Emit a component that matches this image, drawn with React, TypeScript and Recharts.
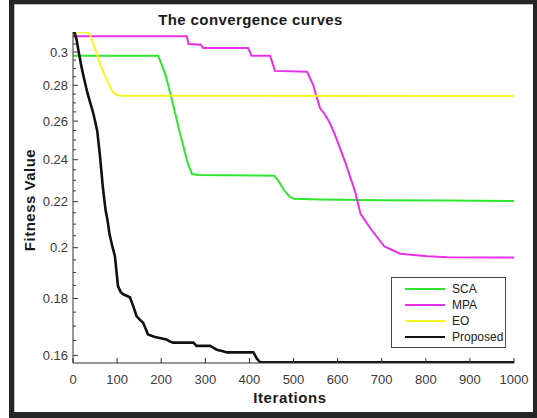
import { LineChart, Line, XAxis, YAxis, Legend } from "recharts";

// iterations / fitness
const scaIter = [0, 193, 200, 210, 220, 232, 242, 250, 258, 264, 270, 285, 350, 420, 456, 465, 478, 490, 500, 560, 700, 850, 1000];
const scaFit = [0.2977, 0.2977, 0.293, 0.286, 0.276, 0.264, 0.254, 0.247, 0.24, 0.236, 0.233, 0.2325, 0.2324, 0.2323, 0.2322, 0.23, 0.2255, 0.2225, 0.2213, 0.221, 0.2207, 0.2205, 0.2203];

const mpaIter = [0, 258, 262, 290, 295, 397, 405, 447, 452, 458, 531, 545, 553, 560, 570, 580, 590, 599, 618, 640, 652, 675, 706, 742, 804, 849, 1000];
const mpaFit = [0.3099, 0.3099, 0.305, 0.3046, 0.3025, 0.3025, 0.2977, 0.2977, 0.2935, 0.2885, 0.288, 0.28, 0.2728, 0.2671, 0.264, 0.26, 0.255, 0.2497, 0.2383, 0.2245, 0.2145, 0.208, 0.2005, 0.1975, 0.1965, 0.1961, 0.196];

const eoIter = [0, 34, 40, 50, 61, 70, 79, 88, 95, 106, 1000];
const eoFit = [0.3127, 0.3125, 0.31, 0.302, 0.2932, 0.287, 0.2817, 0.277, 0.275, 0.274, 0.2739];

const propIter = [0, 4, 8, 13, 19, 25, 32, 38, 45, 50, 55, 61, 68, 74, 78, 83, 90, 95, 102, 108, 114, 129, 137, 144, 152, 159, 165, 170, 186, 212, 218, 227, 273, 280, 311, 318, 326, 340, 349, 409, 417, 424, 430, 1000];
const propFit = [0.3127, 0.312, 0.3078, 0.3, 0.2912, 0.284, 0.2764, 0.271, 0.2652, 0.26, 0.2546, 0.2423, 0.2261, 0.216, 0.212, 0.2055, 0.2, 0.1966, 0.1847, 0.1825, 0.1816, 0.1805, 0.177, 0.1736, 0.1722, 0.1712, 0.169, 0.1671, 0.1662, 0.1654, 0.1648, 0.1643, 0.1643, 0.1632, 0.1632, 0.1626, 0.1619, 0.1614, 0.161, 0.161, 0.1589, 0.1578, 0.1577, 0.1577];

const xTicks = [0, 100, 200, 300, 400, 500, 600, 700, 800, 900, 1000];
const yMajor = [0.16, 0.18, 0.2, 0.22, 0.24, 0.26, 0.28, 0.3];
const yMinor = [0.165, 0.17, 0.175, 0.185, 0.19, 0.195, 0.205, 0.21, 0.215, 0.225, 0.23, 0.235, 0.245, 0.25, 0.255, 0.265, 0.27, 0.275, 0.285, 0.29, 0.295, 0.305, 0.31];

const toPoints = (its: number[], fs: number[]) => its.map((it, i) => ({ it, v: fs[i] }));

const series = [
  { name: "SCA", color: "#2ee62e", width: 2, data: toPoints(scaIter, scaFit) },
  { name: "MPA", color: "#ea2fea", width: 2, data: toPoints(mpaIter, mpaFit) },
  { name: "EO", color: "#f6f621", width: 2, data: toPoints(eoIter, eoFit) },
  { name: "Proposed", color: "#111111", width: 2.6, data: toPoints(propIter, propFit) },
];

const font = "'Liberation Sans', Arial, sans-serif";
const axisColor = "#333";
const yDomain = [0.1575, 0.3127];
const isMajor = (v: number) => yMajor.some((m) => Math.abs(m - v) < 1e-6);

const LeftTick = (p: any) => {
  const major = isMajor(p.payload.value);
  return (
    <g>
      <line x1={p.x} x2={p.x + (major ? 5 : 3)} y1={p.y} y2={p.y} stroke={axisColor} />
      {major && (
        <text x={p.x - 5} y={p.y} dy={4.5} textAnchor="end" fontSize={13} fill="#3a3a3a" fontFamily={font}>
          {String(p.payload.value)}
        </text>
      )}
    </g>
  );
};

const RightTick = (p: any) => {
  const major = isMajor(p.payload.value);
  return <line x1={p.x - (major ? 5 : 3)} x2={p.x} y1={p.y} y2={p.y} stroke={axisColor} />;
};

const BottomTick = (p: any) => (
  <g>
    <line x1={p.x} x2={p.x} y1={p.y} y2={p.y - 5} stroke={axisColor} />
    <text x={p.x} y={p.y + 21} textAnchor="middle" fontSize={13} fill="#3a3a3a" fontFamily={font}>
      {p.payload.value}
    </text>
  </g>
);

const TopTick = (p: any) => <line x1={p.x} x2={p.x} y1={p.y} y2={p.y + 5} stroke={axisColor} />;

const LegendBox = () => (
  <div
    style={{
      width: 113,
      height: 66,
      border: "1px solid #444",
      background: "#fff",
      fontFamily: font,
      fontSize: 12,
      color: "#222",
      paddingTop: 3,
      boxSizing: "content-box",
    }}
  >
    {series.map((s) => (
      <div key={s.name} style={{ display: "flex", alignItems: "center", height: 16 }}>
        <svg width={54} height={16}>
          <line x1={13} x2={53} y1={8} y2={8} stroke={s.color} strokeWidth={2} />
        </svg>
        <span style={{ marginLeft: 6 }}>{s.name}</span>
      </div>
    ))}
  </div>
);

export default function App() {
  return (
    <div style={{ position: "absolute", left: 0, top: 0, width: 537, height: 418, background: "#fff", fontFamily: font }}>
      <LineChart width={537} height={418} margin={{ top: 32, right: 23, bottom: 0, left: 0 }}>
        <XAxis
          xAxisId={0}
          dataKey="it"
          type="number"
          domain={[0, 1000]}
          allowDataOverflow
          ticks={xTicks}
          interval={0}
          height={55}
          tickSize={0}
          tickMargin={0}
          tick={BottomTick}
          axisLine={{ stroke: axisColor }}
        />
        <XAxis
          xAxisId="top"
          orientation="top"
          dataKey="it"
          type="number"
          domain={[0, 1000]}
          allowDataOverflow
          ticks={xTicks.slice(1, -1)}
          interval={0}
          height={0}
          tickSize={0}
          tickMargin={0}
          tick={TopTick}
          axisLine={{ stroke: axisColor }}
        />
        <YAxis
          yAxisId="left"
          type="number"
          scale="log"
          domain={yDomain}
          allowDataOverflow
          ticks={[...yMajor, ...yMinor]}
          interval={0}
          width={73}
          tickSize={0}
          tickMargin={0}
          tick={LeftTick}
          axisLine={{ stroke: axisColor }}
        />
        <YAxis
          yAxisId="right"
          orientation="right"
          type="number"
          scale="log"
          domain={yDomain}
          allowDataOverflow
          ticks={[...yMajor, ...yMinor]}
          interval={0}
          width={0}
          tickSize={0}
          tickMargin={0}
          tick={RightTick}
          axisLine={{ stroke: axisColor }}
        />
        {series.map((s) => (
          <Line
            key={s.name}
            data={s.data}
            dataKey="v"
            name={s.name}
            xAxisId={0}
            yAxisId="left"
            type="linear"
            stroke={s.color}
            strokeWidth={s.width}
            dot={false}
            isAnimationActive={false}
          />
        ))}
        <Legend
          layout="horizontal"
          verticalAlign="middle"
          align="center"
          content={LegendBox}
          wrapperStyle={{ left: 391, top: 277, width: 115, height: 70 }}
        />
      </LineChart>

      <div style={{ position: "absolute", left: 0, width: 501, top: 11, textAlign: "center", fontSize: 15, lineHeight: "18px", fontWeight: 700, letterSpacing: 0.4, color: "#1a1a1a" }}>
        The convergence curves
      </div>
      <div style={{ position: "absolute", left: 290, top: 389, transform: "translateX(-50%)", fontSize: 15, lineHeight: "18px", fontWeight: 700, letterSpacing: 0.6, color: "#1a1a1a", whiteSpace: "nowrap" }}>
        Iterations
      </div>
      <div style={{ position: "absolute", left: 30, top: 200, transform: "translate(-50%, -50%) rotate(-90deg)", fontSize: 15, lineHeight: "18px", fontWeight: 700, letterSpacing: 0.5, color: "#1a1a1a", whiteSpace: "nowrap" }}>
        Fitness Value
      </div>
      <div
        style={{
          position: "absolute",
          left: 9,
          top: 0,
          width: 528,
          height: 418,
          boxSizing: "border-box",
          borderStyle: "solid",
          borderColor: "#262626",
          borderWidth: "4px 4px 6px 5px",
          boxShadow: "inset 1px 1px 0 #bbb",
          pointerEvents: "none",
        }}
      />
    </div>
  );
}
